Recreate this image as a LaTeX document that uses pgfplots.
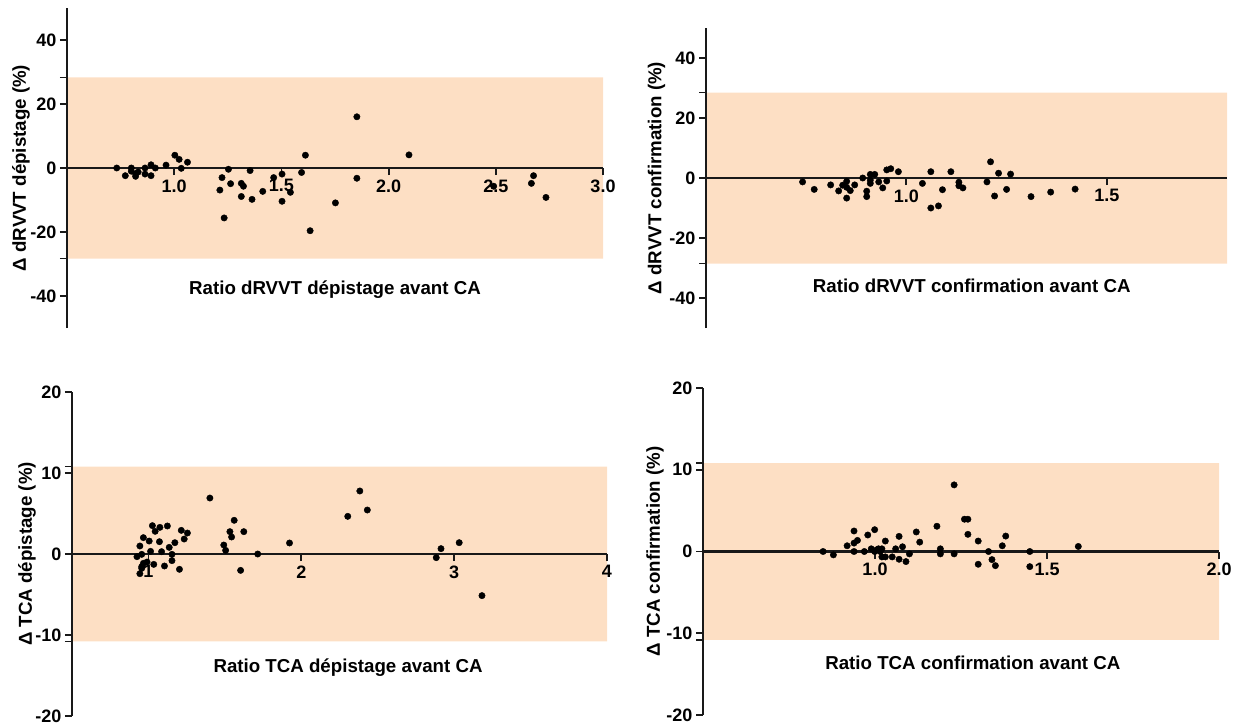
\documentclass[border=0pt]{standalone}
\usepackage{fontspec}
\setmainfont{Liberation Sans}
\usepackage{pgfplots}
\pgfplotsset{compat=1.18}
\definecolor{band}{RGB}{253,223,196}
\definecolor{axc}{RGB}{25,25,25}
\pgfplotsset{
  panel/.style={
    axis on top,
    scale only axis, clip=false,
    axis x line=middle, axis y line=left,
    axis line style={-, line width=2.2pt, axc},
    every tick/.style={axc, line width=1.8pt},
    major tick length=7pt,
    tick align=outside,
    tick label style={font=\fontsize{18}{20}\selectfont\bfseries},
    label style={font=\fontsize{18.7}{21}\selectfont\bfseries},
    xticklabel style={yshift=-1pt},
  },
  dots/.style={only marks, mark=*, mark size=3.2pt, black},
}
\begin{document}
\begin{tikzpicture}
\path[use as bounding box] (0,0) rectangle (1239pt,-726pt);

% Panel 1
\begin{axis}[panel, at={(67pt,-328pt)}, anchor=south west,
  width=536pt, height=320pt,
  xmin=0.5, xmax=3, ymin=-50, ymax=50,
  xtick={1,1.5,2,2.5,3}, xticklabels={1.0,1.5,2.0,2.5,3.0},
  ytick={-40,-20,0,20,40}, yticklabels={-40,-20,0,20,40},
  extra y ticks={-28.3,28.3}, extra y tick labels={},
  xlabel={Ratio dRVVT dépistage avant CA},
  xlabel style={at={(axis description cs:0.5,0.119)}, anchor=center},
  ylabel={Δ dRVVT dépistage (\%)},
  ylabel style={at={(axis description cs:-0.086,0.5)}, anchor=center},
]
\addplot[draw=none, fill=band] coordinates {(0.5,-28.3) (3,-28.3) (3,28.3) (0.5,28.3) (0.5,-28.3)};
\addplot[dots] table {
x y
0.732 0
0.772 -2.4
0.80 0
0.80 -1.0
0.82 -1.8
0.82 -2.6
0.832 -1.25
0.864 0
0.864 -1.9
0.892 1.0
0.892 -2.4
0.912 0
0.962 0.9
1.003 4.0
1.023 2.7
1.033 -0.1
1.062 1.8
1.213 -6.9
1.223 -3.0
1.233 -15.6
1.253 -0.4
1.263 -4.9
1.313 -4.8
1.323 -5.7
1.313 -8.9
1.354 -0.8
1.363 -9.8
1.413 -7.3
1.464 -3.0
1.503 -1.9
1.503 -10.4
1.542 -7.6
1.594 -1.4
1.612 4.0
1.634 -19.6
1.752 -10.9
1.852 16.0
1.852 -3.2
2.095 4.1
2.49 -5.7
2.666 -4.8
2.676 -2.4
2.734 -9.2
};
\end{axis}

% Panel 2
\begin{axis}[panel, at={(706pt,-328pt)}, anchor=south west,
  width=521pt, height=300pt,
  xmin=0.5, xmax=1.8, ymin=-50, ymax=50,
  xtick={1,1.5}, xticklabels={1.0,1.5},
  ytick={-40,-20,0,20,40}, yticklabels={-40,-20,0,20,40},
  extra y ticks={-28.5,28.5}, extra y tick labels={},
  xlabel={Ratio dRVVT confirmation avant CA},
  xlabel style={at={(axis description cs:0.51,0.14)}, anchor=center},
  ylabel={Δ dRVVT confirmation (\%)},
  ylabel style={at={(axis description cs:-0.095,0.5)}, anchor=center},
]
\addplot[draw=none, fill=band] coordinates {(0.5,-28.5) (1.8,-28.5) (1.8,28.5) (0.5,28.5) (0.5,-28.5)};
\addplot[dots] table {
x y
0.741 -1.3
0.770 -3.8
0.811 -2.3
0.831 -4.3
0.841 -2.4
0.851 -1.1
0.851 -3.1
0.851 -6.7
0.860 -4.2
0.871 -2.3
0.891 0
0.901 -4.4
0.901 -6.2
0.910 1.2
0.910 -0.7
0.910 -1.8
0.921 1.2
0.931 -1.3
0.941 -3.3
0.951 2.7
0.951 -1.0
0.961 3.1
0.980 2.1
1.040 -1.8
1.061 2.1
1.061 -10.0
1.080 -9.3
1.090 -3.9
1.111 2.1
1.131 -1.4
1.131 -2.6
1.141 -3.3
1.201 -1.3
1.210 5.4
1.220 -6.0
1.230 1.6
1.250 -3.8
1.260 1.3
1.311 -6.2
1.360 -4.7
1.421 -3.7
};
\end{axis}

% Panel 3
\begin{axis}[panel, at={(72pt,-716pt)}, anchor=south west,
  width=535pt, height=324pt,
  xmin=0.5, xmax=4, ymin=-20, ymax=20,
  xtick={1,2,3,4}, xticklabels={1,2,3,4},
  ytick={-20,-10,0,10,20}, yticklabels={-20,-10,0,10,20},
  extra y ticks={-10.8,10.8}, extra y tick labels={},
  xlabel={Ratio TCA dépistage avant CA},
  xlabel style={at={(axis description cs:0.516,0.148)}, anchor=center},
  ylabel={Δ TCA dépistage (\%)},
  ylabel style={at={(axis description cs:-0.084,0.5)}, anchor=center},
]
\addplot[draw=none, fill=band] coordinates {(0.5,-10.8) (4,-10.8) (4,10.8) (0.5,10.8) (0.5,-10.8)};
\addplot[dots] table {
x y
0.925 -0.33
0.944 0.99
0.944 -2.43
0.956 -0.04
0.956 -1.56
0.956 -1.77
0.967 2.02
0.967 -1.15
0.991 -0.99
1.005 1.60
1.014 0.33
1.026 3.50
1.035 -1.28
1.044 2.80
1.072 1.52
1.075 3.29
1.086 0.29
1.105 -1.48
1.124 3.46
1.136 0.82
1.154 -0.04
1.154 -0.82
1.173 1.40
1.203 -1.89
1.215 2.92
1.234 1.85
1.255 2.59
1.402 6.91
1.493 1.11
1.505 0.45
1.533 2.76
1.544 2.10
1.561 4.16
1.603 -2.02
1.624 2.76
1.715 0
1.923 1.36
2.304 4.65
2.383 7.78
2.432 5.43
2.883 -0.45
2.914 0.66
3.033 1.40
3.182 -5.14
};
\end{axis}

% Panel 4
\begin{axis}[panel, at={(703pt,-715pt)}, anchor=south west,
  width=516pt, height=327pt,
  xmin=0.5, xmax=2, ymin=-20, ymax=20,
  xtick={1,1.5,2}, xticklabels={1.0,1.5,2.0},
  ytick={-20,-10,0,10,20}, yticklabels={-20,-10,0,10,20},
  extra y ticks={-10.8,10.8}, extra y tick labels={},
  xlabel={Ratio TCA confirmation avant CA},
  xlabel style={at={(axis description cs:0.523,0.159)}, anchor=center},
  ylabel={Δ TCA confirmation (\%)},
  ylabel style={at={(axis description cs:-0.093,0.5)}, anchor=center},
]
\addplot[draw=none, fill=band] coordinates {(0.5,-10.8) (2,-10.8) (2,10.8) (0.5,10.8) (0.5,-10.8)};
\addplot[dots] table {
x y
0.849 0
0.879 -0.41
0.919 0.70
0.939 2.51
0.939 1.03
0.939 0
0.949 1.36
0.969 0
0.979 2.02
0.989 0.33
0.999 2.67
0.999 0
1.005 0.21
1.010 0.33
1.015 0
1.020 0.33
1.020 -0.66
1.030 1.28
1.030 -0.66
1.050 -0.66
1.060 0.33
1.070 1.85
1.070 -0.95
1.080 0.58
1.090 -1.23
1.100 -0.29
1.120 2.39
1.130 1.15
1.180 3.09
1.190 0.33
1.190 -0.29
1.230 8.15
1.230 -0.29
1.260 3.95
1.270 3.95
1.270 2.10
1.300 1.28
1.300 -1.56
1.330 0
1.340 -0.99
1.350 -1.73
1.370 0.70
1.380 1.89
1.450 0
1.450 -1.85
1.591 0.62
};
\end{axis}
\end{tikzpicture}
\end{document}
